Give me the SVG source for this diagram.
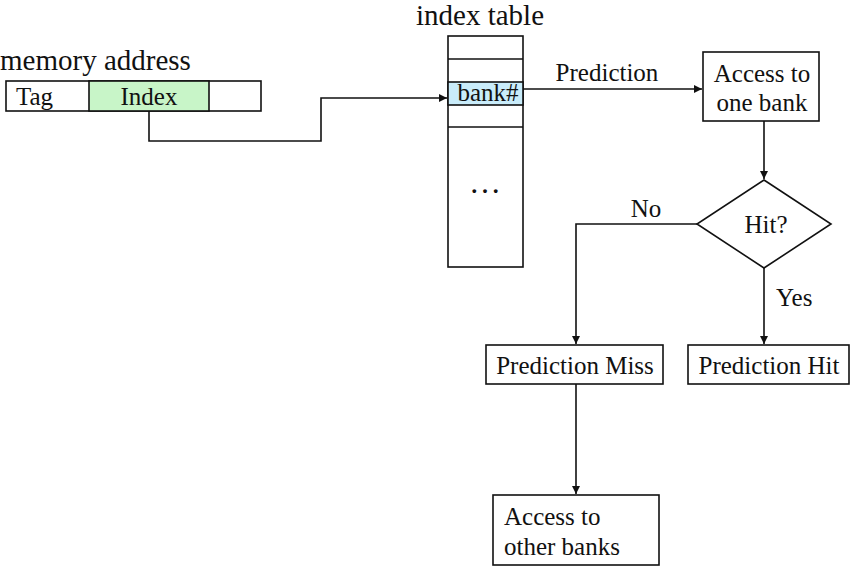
<svg xmlns="http://www.w3.org/2000/svg" width="850" height="566" viewBox="0 0 850 566">
<style>
text{font-family:"Liberation Serif","Times New Roman",serif;fill:#111;font-size:25px}
text.big{font-size:29px}
text.dots{font-size:32px}
.box{fill:#fff;stroke:#111;stroke-width:1.6}
.ln{fill:none;stroke:#111;stroke-width:1.6}
</style>
<defs>
<marker id="ah" viewBox="0 0 10 10" refX="10" refY="5" markerWidth="8" markerHeight="8" markerUnits="userSpaceOnUse" orient="auto">
<path d="M0,0 L10,5 L0,10 z" fill="#111"/>
</marker>
</defs>
<rect width="850" height="566" fill="#fff"/>
<g id="memory-address">
<text class="big" x="0" y="70">memory address</text>
<rect class="box" x="6" y="81" width="255" height="30"/>
<rect x="89" y="81" width="120" height="30" fill="#c8f5c8" stroke="#111" stroke-width="1.6"/>
<text x="16" y="105">Tag</text>
<text x="149" y="105" text-anchor="middle">Index</text>
</g>
<g id="index-table">
<text class="big" x="480" y="25" text-anchor="middle">index table</text>
<rect class="box" x="448" y="36" width="75" height="231"/>
<rect x="448" y="82" width="75" height="23" fill="#c9ecfa" stroke="#111" stroke-width="1.6"/>
<line class="ln" x1="448" y1="59" x2="523" y2="59"/>
<line class="ln" x1="448" y1="127" x2="523" y2="127"/>
<text x="488" y="101" text-anchor="middle">bank#</text>
<text class="dots" x="485" y="193" text-anchor="middle">…</text>
</g>
<g id="access-one">
<rect class="box" x="703" y="52" width="116" height="69"/>
<text x="762" y="82" text-anchor="middle">Access to</text>
<text x="762" y="111" text-anchor="middle">one bank</text>
</g>
<g id="hit">
<polygon class="box" points="764,180 831,224 764,268 697,224"/>
<text x="766" y="233" text-anchor="middle">Hit?</text>
</g>
<g id="pred-miss">
<rect class="box" x="486" y="345" width="177" height="39"/>
<text x="575" y="374" text-anchor="middle">Prediction Miss</text>
</g>
<g id="pred-hit">
<rect class="box" x="688" y="345" width="161" height="39"/>
<text x="769" y="374" text-anchor="middle">Prediction Hit</text>
</g>
<g id="access-other">
<rect class="box" x="493" y="495" width="166" height="70"/>
<text x="504" y="525">Access to</text>
<text x="504" y="555">other banks</text>
</g>
<g id="connectors">
<polyline class="ln" points="149,111 149,141 321,141 321,98 447,98" marker-end="url(#ah)"/>
<line class="ln" x1="523" y1="89" x2="702" y2="89" marker-end="url(#ah)"/>
<text x="607" y="81" text-anchor="middle">Prediction</text>
<line class="ln" x1="764" y1="121" x2="764" y2="179" marker-end="url(#ah)"/>
<polyline class="ln" points="697,224 576,224 576,344" marker-end="url(#ah)"/>
<text x="646" y="217" text-anchor="middle">No</text>
<line class="ln" x1="764" y1="268" x2="764" y2="344" marker-end="url(#ah)"/>
<text x="776" y="306">Yes</text>
<line class="ln" x1="576" y1="384" x2="576" y2="494" marker-end="url(#ah)"/>
</g>
</svg>
